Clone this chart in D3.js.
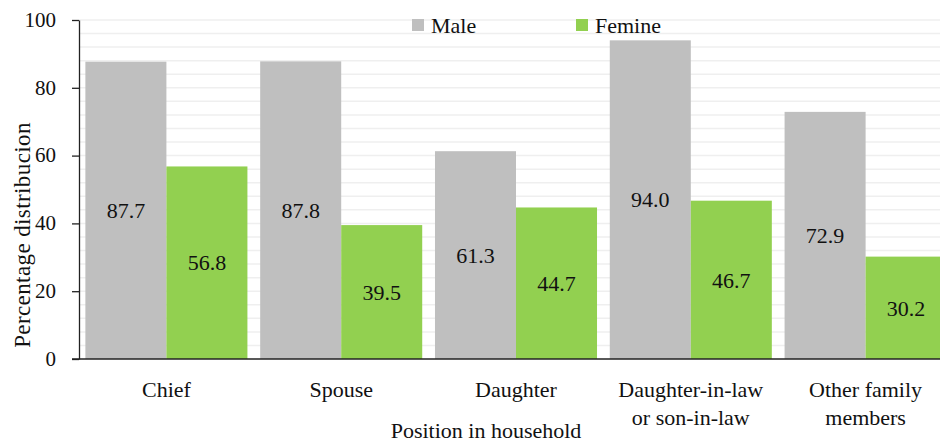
<!DOCTYPE html>
<html>
<head>
<meta charset="utf-8">
<script src="https://cdn.jsdelivr.net/npm/d3@7"></script>
<style>
  body { margin: 0; background: #fff; }
  text { font-family: "Liberation Serif", serif; fill: #111; }
</style>
</head>
<body>
<svg id="chart" width="940" height="445"></svg>
<script>
// data
const categories = [["Chief"], ["Spouse"], ["Daughter"], ["Daughter-in-law", "or son-in-law"], ["Other family", "members"]];
const male = [87.7, 87.8, 61.3, 94.0, 72.9];
const femine = [56.8, 39.5, 44.7, 46.7, 30.2];
const seriesNames = ["Male", "Femine"];
const yTicks = [0, 20, 40, 60, 80, 100];

const colors = ["#bfbfbf", "#92d050"];

let svg = d3.select("svg#chart");
let margin = {left: 79, top: 20, bottom: 86};
let plotW = 940 - margin.left;      // visible plot width
let bandRange = 874;                // last group runs past the right edge
let height = +svg.attr("height") - margin.top - margin.bottom;

let chart = svg.append("g")
  .attr("transform", "translate(" + margin.left + "," + margin.top + ")");

let x = d3.scaleBand()
  .domain(d3.range(categories.length))
  .range([0, bandRange])
  .paddingInner(0.073)
  .paddingOuter(0.0365);

let xSub = d3.scaleBand()
  .domain(seriesNames)
  .range([0, x.bandwidth()]);

let y = d3.scaleLinear()
  .domain([0, 100])
  .range([height, 0]);

// light minor gridlines every 4 units
chart.append("g")
  .selectAll("line")
  .data(d3.range(4, 101, 4))
  .join("line")
  .attr("x1", 0)
  .attr("x2", plotW)
  .attr("y1", d => y(d))
  .attr("y2", d => y(d))
  .attr("stroke", "#efefef")
  .attr("stroke-width", 1.5);

// bars
let rows = categories.map((c, i) => [
  {s: "Male", v: male[i], c: colors[0]},
  {s: "Femine", v: femine[i], c: colors[1]}
]);

let groups = chart.selectAll("g.grp")
  .data(rows)
  .join("g")
  .attr("class", "grp")
  .attr("transform", (d, i) => "translate(" + x(i) + ",0)");

groups.selectAll("rect")
  .data(d => d)
  .join("rect")
  .attr("x", d => xSub(d.s))
  .attr("width", xSub.bandwidth())
  .attr("y", d => y(d.v))
  .attr("height", d => height - y(d.v))
  .attr("fill", d => d.c);

groups.selectAll("text.val")
  .data(d => d)
  .join("text")
  .attr("class", "val")
  .attr("x", d => xSub(d.s) + xSub.bandwidth() / 2)
  .attr("y", d => y(d.v / 2))
  .attr("dy", "0.35em")
  .attr("text-anchor", "middle")
  .style("font-size", "22px")
  .text(d => d.v.toFixed(1));

// y axis
let yAxis = chart.append("g")
  .call(d3.axisLeft(y).tickValues(yTicks).tickSize(7).tickSizeOuter(0));
yAxis.attr("font-family", null).attr("font-size", null);
yAxis.select(".domain").attr("stroke", "#222").attr("stroke-width", 1.3);
yAxis.selectAll(".tick line").attr("stroke", "#222").attr("stroke-width", 1.3);
yAxis.selectAll(".tick text")
  .attr("x", -23)
  .attr("dy", "0.3em")
  .style("font-size", "21px")
  .attr("fill", "#111");

// x axis baseline
chart.append("line")
  .attr("x1", -7)
  .attr("x2", plotW)
  .attr("y1", height)
  .attr("y2", height)
  .attr("stroke", "#222")
  .attr("stroke-width", 1.5);

// category labels
let catText = chart.append("g")
  .selectAll("text")
  .data(categories)
  .join("text")
  .attr("text-anchor", "middle")
  .attr("x", (d, i) => x(i) + x.bandwidth() / 2)
  .attr("y", height + 38)
  .style("font-size", "22px");
catText.selectAll("tspan")
  .data(d => d)
  .join("tspan")
  .attr("x", function() { return d3.select(this.parentNode).attr("x"); })
  .attr("dy", (d, i) => i === 0 ? 0 : 28)
  .text(d => d);

// axis titles
svg.append("text")
  .attr("text-anchor", "middle")
  .attr("x", 486)
  .attr("y", 438)
  .style("font-size", "22px")
  .text("Position in household");

svg.append("text")
  .attr("text-anchor", "middle")
  .attr("transform", "translate(30,235) rotate(-90)")
  .style("font-size", "23px")
  .style("letter-spacing", "0.4px")
  .text("Percentage distribucion");

// legend
let legend = svg.append("g")
  .selectAll("g")
  .data(seriesNames)
  .join("g")
  .attr("transform", (d, i) => "translate(" + (412 + i * 164) + ",19)");
legend.append("rect")
  .attr("width", 12)
  .attr("height", 12)
  .attr("fill", (d, i) => colors[i]);
legend.append("text")
  .attr("x", 19)
  .attr("y", 6)
  .attr("dy", "0.35em")
  .style("font-size", "22px")
  .text(d => d);
</script>
</body>
</html>
